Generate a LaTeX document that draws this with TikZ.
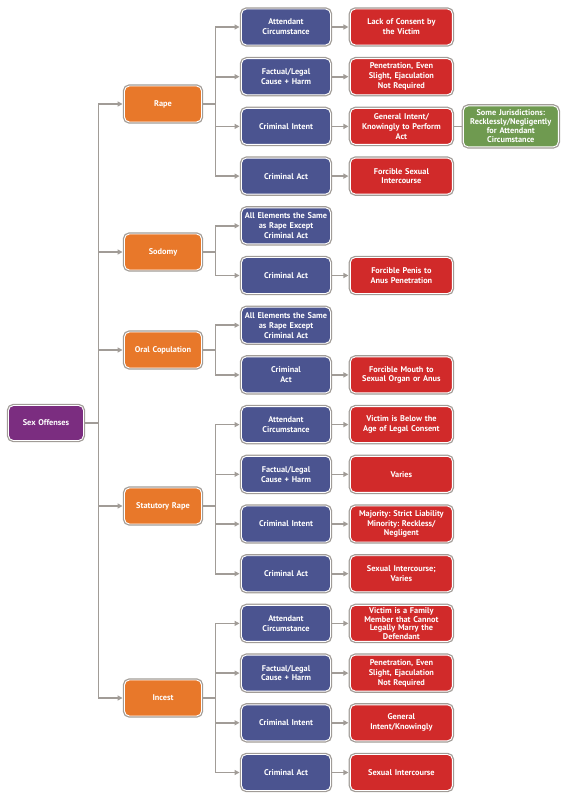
\documentclass[tikz,border=0pt]{standalone}
\usepackage{fontspec}
\setmainfont{PT Sans}
\usetikzlibrary{arrows.meta,positioning}
\definecolor{cpur}{HTML}{7B2D80}
\definecolor{corg}{HTML}{E8782A}
\definecolor{cblu}{HTML}{4B5490}
\definecolor{cred}{HTML}{D12A2A}
\definecolor{cgrn}{HTML}{6F9A50}
\definecolor{cgry}{HTML}{A19C97}
\frenchspacing

\begin{document}
\begin{tikzpicture}[x=1pt,y=-1pt,font=\fontsize{8.3}{9.9}\selectfont\bfseries,
  box/.style={rounded corners=5pt,align=center,text=white,inner xsep=2pt,inner ysep=1pt,minimum height=36pt,
    draw=white,line width=0.9pt,preaction={draw=cgry,line width=3.4pt}},
  pu/.style={box,fill=cpur,text width=71pt,minimum height=35pt}, og/.style={box,fill=corg,text width=73pt},
  bl/.style={box,fill=cblu,text width=85pt}, rd/.style={box,fill=cred,text width=98pt},
  gr/.style={box,fill=cgrn,text width=91pt,minimum height=41pt,font=\fontsize{8.3}{9}\selectfont\bfseries},
  ln/.style={cgry,line width=1.6pt,line cap=rect},
  ar/.style={ln,-{Triangle[length=5pt,width=5pt]},shorten >=1.5pt}]
 \useasboundingbox (0,0) rectangle (565,800);
 \node[pu] (sex) at (46,423) {Sex Offenses};
 \node[og] (rape) at (163,104) {Rape};
 \node[og] (sod) at (163,252) {Sodomy};
 \node[og] (oral) at (163,350) {Oral Copulation};
 \node[og] (stat) at (163,506) {Statutory Rape};
 \node[og] (inc) at (163,698) {Incest};
 \node[bl] (b1) at (286,27) {Attendant\\Circumstance};
 \node[bl, below=12.8pt of b1] (b2) {Factual/Legal\\Cause + Harm};
 \node[bl, below=12.8pt of b2] (b3) {Criminal Intent};
 \node[bl, below=12.8pt of b3] (b4) {Criminal Act};
 \node[bl, below=12.8pt of b4] (b5) {All Elements the Same\\as Rape Except\\Criminal Act};
 \node[bl, below=12.8pt of b5] (b6) {Criminal Act};
 \node[bl, below=12.8pt of b6] (b7) {All Elements the Same\\as Rape Except\\Criminal Act};
 \node[bl, below=12.8pt of b7] (b8) {Criminal\\Act};
 \node[bl, below=12.8pt of b8] (b9) {Attendant\\Circumstance};
 \node[bl, below=12.8pt of b9] (b10) {Factual/Legal\\Cause + Harm};
 \node[bl, below=12.8pt of b10] (b11) {Criminal Intent};
 \node[bl, below=12.8pt of b11] (b12) {Criminal Act};
 \node[bl, below=12.8pt of b12] (b13) {Attendant\\Circumstance};
 \node[bl, below=12.8pt of b13] (b14) {Factual/Legal\\Cause + Harm};
 \node[bl, below=12.8pt of b14] (b15) {Criminal Intent};
 \node[bl, below=12.8pt of b15] (b16) {Criminal Act};
 \node[rd, right=19pt of b1] (e1) {Lack of Consent by\\the Victim};
 \node[rd, right=19pt of b2] (e2) {Penetration, Even\\Slight, Ejaculation\\Not Required};
 \node[rd, right=19pt of b3] (e3) {General Intent/\\Knowingly to Perform\\Act};
 \node[rd, right=19pt of b4] (e4) {Forcible Sexual\\Intercourse};
 \node[rd, right=19pt of b6] (e6) {Forcible Penis to\\Anus Penetration};
 \node[rd, right=19pt of b8] (e8) {Forcible Mouth to\\Sexual Organ or Anus};
 \node[rd, right=19pt of b9] (e9) {Victim is Below the\\Age of Legal Consent};
 \node[rd, right=19pt of b10] (e10) {Varies};
 \node[rd, right=19pt of b11] (e11) {Majority: Strict Liability\\Minority: Reckless/\\Negligent};
 \node[rd, right=19pt of b12] (e12) {Sexual Intercourse;\\Varies};
 \node[rd, right=19pt of b13, font=\fontsize{8.3}{8.6}\selectfont\bfseries] (e13) {Victim is a Family\\Member that Cannot\\Legally Marry the\\Defendant};
 \node[rd, right=19pt of b14] (e14) {Penetration, Even\\Slight, Ejaculation\\Not Required};
 \node[rd, right=19pt of b15] (e15) {General\\Intent/Knowingly};
 \node[rd, right=19pt of b16] (e16) {Sexual Intercourse};
 \node[gr, right=10pt of e3] (g1) {Some Jurisdictions:\\Recklessly/Negligently\\for Attendant\\Circumstance};
 \coordinate[right=14.5pt of sex] (tr);
 \coordinate[right=13.5pt of rape] (rak); \coordinate[right=13.5pt of sod] (sok); \coordinate[right=13.5pt of oral] (ock);
 \coordinate[right=13.5pt of stat] (stk); \coordinate[right=13.5pt of inc] (ink);
 \draw[ln, shorten <=1.5pt] (sex) -- (tr); \draw[ln] (tr |- rape) -- (tr |- inc);
 \foreach \n in {rape,sod,oral,stat,inc} \draw[ar] (tr |- \n) -- (\n);
 \draw[ln, shorten <=1.5pt] (rape) -- (rak); \draw[ln] (rak |- b1) -- (rak |- b4);
 \foreach \n in {b1,b2,b3,b4} \draw[ar] (rak |- \n) -- (\n);
 \draw[ln, shorten <=1.5pt] (sod) -- (sok); \draw[ln] (sok |- b5) -- (sok |- b6);
 \foreach \n in {b5,b6} \draw[ar] (sok |- \n) -- (\n);
 \draw[ln, shorten <=1.5pt] (oral) -- (ock); \draw[ln] (ock |- b7) -- (ock |- b8);
 \foreach \n in {b7,b8} \draw[ar] (ock |- \n) -- (\n);
 \draw[ln, shorten <=1.5pt] (stat) -- (stk); \draw[ln] (stk |- b9) -- (stk |- b12);
 \foreach \n in {b9,b10,b11,b12} \draw[ar] (stk |- \n) -- (\n);
 \draw[ln, shorten <=1.5pt] (inc) -- (ink); \draw[ln] (ink |- b13) -- (ink |- b16);
 \foreach \n in {b13,b14,b15,b16} \draw[ar] (ink |- \n) -- (\n);
 \foreach \a/\b in {b1/e1,b2/e2,b3/e3,b4/e4,b6/e6,b8/e8,b9/e9,b10/e10,b11/e11,b12/e12,b13/e13,b14/e14,b15/e15,b16/e16}
   \draw[ar, shorten <=1.5pt] (\a) -- (\b);
 \draw[ln, shorten <=1.5pt, shorten >=1.5pt] (e3) -- (g1);
\end{tikzpicture}
\end{document}
